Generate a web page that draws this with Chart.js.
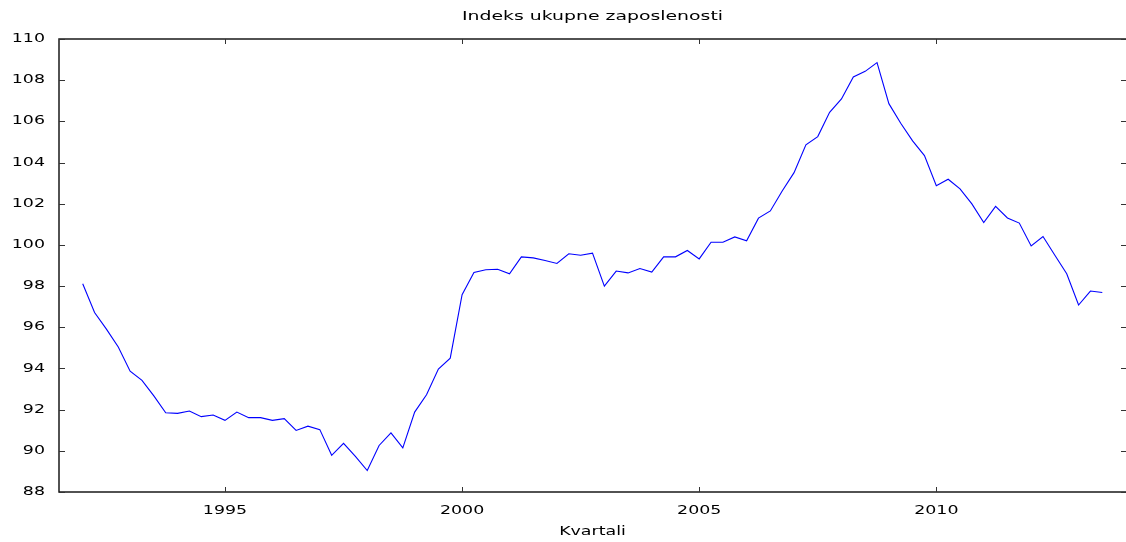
<!DOCTYPE html>
<html>
<head>
<meta charset="utf-8">
<script src="https://cdn.jsdelivr.net/npm/chart.js@4/dist/chart.umd.min.js"></script>
<style>
  html, body { margin: 0; padding: 0; background: #ffffff; }
  #c { display: block; }
</style>
</head>
<body>
<canvas id="c" width="1126" height="542"></canvas>
<script>
// ---- data ----
const chartTitle = 'Indeks ukupne zaposlenosti';
const xAxisTitle = 'Kvartali';
const firstQuarter = 1992.0;   // 1992 Q1
const quarterStep = 0.25;
const employmentIndex = [
  98.11, 96.72, 95.91, 95.04, 93.87, 93.42, 92.67, 91.85,
  91.82, 91.93, 91.66, 91.74, 91.48, 91.88, 91.61, 91.61,
  91.48, 91.56, 90.99, 91.20, 91.03, 89.78, 90.36, 89.73,
  89.04, 90.26, 90.87, 90.14, 91.88, 92.72, 93.97, 94.50,
  97.58, 98.66, 98.79, 98.82, 98.60, 99.42, 99.37, 99.24,
  99.10, 99.57, 99.50, 99.60, 98.00, 98.73, 98.64, 98.85,
  98.68, 99.42, 99.42, 99.73, 99.32, 100.13, 100.13, 100.39,
  100.20, 101.30, 101.65, 102.62, 103.51, 104.86, 105.26, 106.44,
  107.09, 108.16, 108.43, 108.85, 106.86, 105.91, 105.05, 104.34,
  102.87, 103.19, 102.72, 101.99, 101.09, 101.87, 101.31, 101.06,
  99.95, 100.41, 99.50, 98.60, 97.08, 97.76, 97.69
];
const xTickValues = [1995, 2000, 2005, 2010];
const yTickValues = [88, 90, 92, 94, 96, 98, 100, 102, 104, 106, 108, 110];
const xRange = [1991.5, 2014];
const yRange = [88, 110];

const points = employmentIndex.map((v, i) => ({ x: firstQuarter + i * quarterStep, y: v }));

// ---- horizontally stretched text (like the reference rendering) ----
const canvas = document.getElementById('c');
const ctx = canvas.getContext('2d');
const SX = 1.45;
const origFill = ctx.fillText.bind(ctx);
const origMeasure = ctx.measureText.bind(ctx);
ctx.fillText = function (t, x, y, mw) {
  ctx.save();
  ctx.translate(x, y);
  ctx.scale(SX, 1);
  if (mw !== undefined) origFill(t, 0, 0, mw / SX); else origFill(t, 0, 0);
  ctx.restore();
};
ctx.measureText = function (t) {
  const m = origMeasure(t);
  return {
    width: m.width * SX,
    actualBoundingBoxAscent: m.actualBoundingBoxAscent,
    actualBoundingBoxDescent: m.actualBoundingBoxDescent,
    actualBoundingBoxLeft: m.actualBoundingBoxLeft * SX,
    actualBoundingBoxRight: m.actualBoundingBoxRight * SX
  };
};

// ---- frame, inward tick marks (gnuplot style) and title over the plot area ----
const framePlugin = {
  id: 'frame',
  afterDraw(chart) {
    const a = chart.chartArea;
    const c = chart.ctx;
    const xs = chart.scales.x, ys = chart.scales.y;
    c.save();
    c.strokeStyle = '#1a1a1a';
    c.lineWidth = 1.5;
    c.beginPath();
    c.moveTo(chart.width, a.top);
    c.lineTo(a.left, a.top);
    c.lineTo(a.left, a.bottom);
    c.lineTo(chart.width, a.bottom);
    c.stroke();
    c.lineWidth = 1;
    c.strokeStyle = '#333333';
    c.beginPath();
    xs.ticks.forEach(t => {
      const px = Math.round(xs.getPixelForValue(t.value)) + 0.5;
      c.moveTo(px, a.bottom); c.lineTo(px, a.bottom - 5);
      c.moveTo(px, a.top); c.lineTo(px, a.top + 5);
    });
    ys.ticks.forEach(t => {
      const py = Math.round(ys.getPixelForValue(t.value)) + 0.5;
      c.moveTo(a.left, py); c.lineTo(a.left + 6, py);
      c.moveTo(chart.width, py); c.lineTo(chart.width - 5, py);
    });
    c.stroke();
    // title centred over the plot area
    c.fillStyle = '#000000';
    c.font = 'normal 13px "DejaVu Sans"';
    c.textAlign = 'center';
    c.textBaseline = 'middle';
    c.fillText(chartTitle, (a.left + chart.width) / 2, 17);
    c.restore();
  }
};

const font = { family: 'DejaVu Sans', size: 12, weight: 'normal' };

new Chart(ctx, {
  type: 'line',
  data: {
    datasets: [{
      data: points,
      borderColor: '#0000ff',
      borderWidth: 1.1,
      pointRadius: 0,
      tension: 0,
      fill: false
    }]
  },
  options: {
    responsive: false,
    devicePixelRatio: 1,
    animation: false,
    events: [],
    layout: { padding: { left: 0, right: 0, top: 39, bottom: 0 } },
    plugins: {
      legend: { display: false },
      tooltip: { enabled: false },
      title: { display: false }
    },
    scales: {
      x: {
        type: 'linear',
        min: xRange[0],
        max: xRange[1],
        grid: { display: false, drawTicks: false },
        border: { display: false },
        afterBuildTicks: s => { s.ticks = xTickValues.map(v => ({ value: v })); },
        afterFit: s => { s.height = 50; },
        ticks: {
          color: '#000000',
          font: font,
          padding: 12,
          maxRotation: 0,
          autoSkip: false,
          callback: v => String(v)
        },
        title: {
          display: true,
          text: xAxisTitle,
          color: '#000000',
          font: font,
          padding: { top: 0, bottom: 3 }
        }
      },
      y: {
        type: 'linear',
        min: yRange[0],
        max: yRange[1],
        grid: { display: false, drawTicks: false },
        border: { display: false },
        afterBuildTicks: s => { s.ticks = yTickValues.map(v => ({ value: v })); },
        afterFit: s => { s.width = 59; },
        ticks: {
          color: '#000000',
          font: font,
          padding: 14,
          autoSkip: false,
          callback: v => String(v)
        }
      }
    }
  },
  plugins: [framePlugin]
});
</script>
</body>
</html>
